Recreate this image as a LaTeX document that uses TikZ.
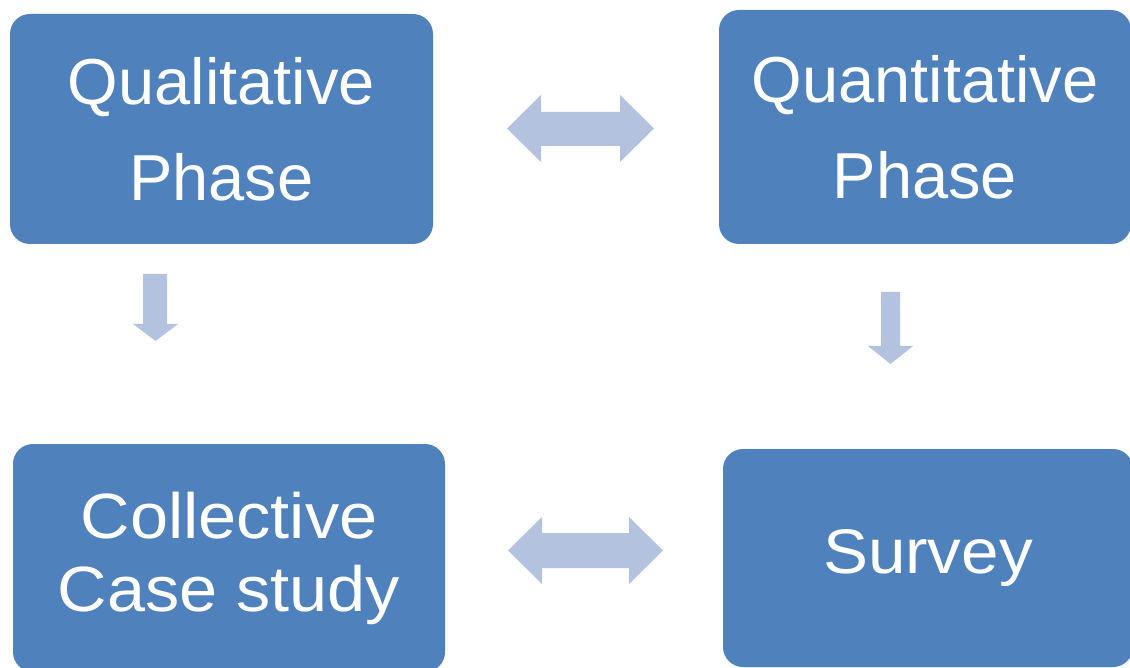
\documentclass[tikz,border=0pt]{standalone}
\usepackage{fontspec}
\setmainfont{Liberation Sans}
\newfontfamily\widesans[FakeStretch=1.07]{Liberation Sans}
\definecolor{boxblue}{HTML}{4F81BD}
\definecolor{arrowblue}{HTML}{B3C3DF}
\begin{document}
\begin{tikzpicture}[x=1pt,y=-1pt,
  phasebox/.style={rectangle, rounded corners=20pt, fill=boxblue, draw=none,
    text=white, inner sep=0pt, align=center, font=\fontsize{65}{96}\selectfont},
  blockarrow/.style={fill=arrowblue, draw=none}]
\useasboundingbox (0,0) rectangle (1130,668);
% four phase boxes
\node[phasebox, minimum width=423pt, minimum height=230pt] (qual) at (221.5,129)
  {Qualitative\\Phase};
\node[phasebox, minimum width=412pt, minimum height=234pt] (quant) at (925,127)
  {Quantitative\\Phase};
\node[phasebox, minimum width=432pt, minimum height=228pt,
  font=\widesans\fontsize{64}{73}\selectfont] (case) at (229,558)
  {Collective\\Case study};
\node[phasebox, minimum width=410pt, minimum height=218pt,
  font=\widesans\fontsize{63}{73}\selectfont] (survey) at (928,558)
  {Survey};
% block arrows between the boxes
\fill[blockarrow] (507,128.5) -- (541,95) -- (541,112) -- (620,112) -- (620,95)
  -- (654,128.5) -- (620,162) -- (620,146) -- (541,146) -- (541,162) -- cycle;
\fill[blockarrow] (508,550.5) -- (542,517) -- (542,533) -- (629,533) -- (629,517)
  -- (663,550.5) -- (629,584) -- (629,568) -- (542,568) -- (542,584) -- cycle;
\fill[blockarrow] (143,274) -- (167,274) -- (167,324) -- (178,324) -- (155.5,341)
  -- (133,324) -- (143,324) -- cycle;
\fill[blockarrow] (881,292) -- (900,292) -- (900,346) -- (913,346) -- (890.5,364)
  -- (868,346) -- (881,346) -- cycle;
\end{tikzpicture}
\end{document}
